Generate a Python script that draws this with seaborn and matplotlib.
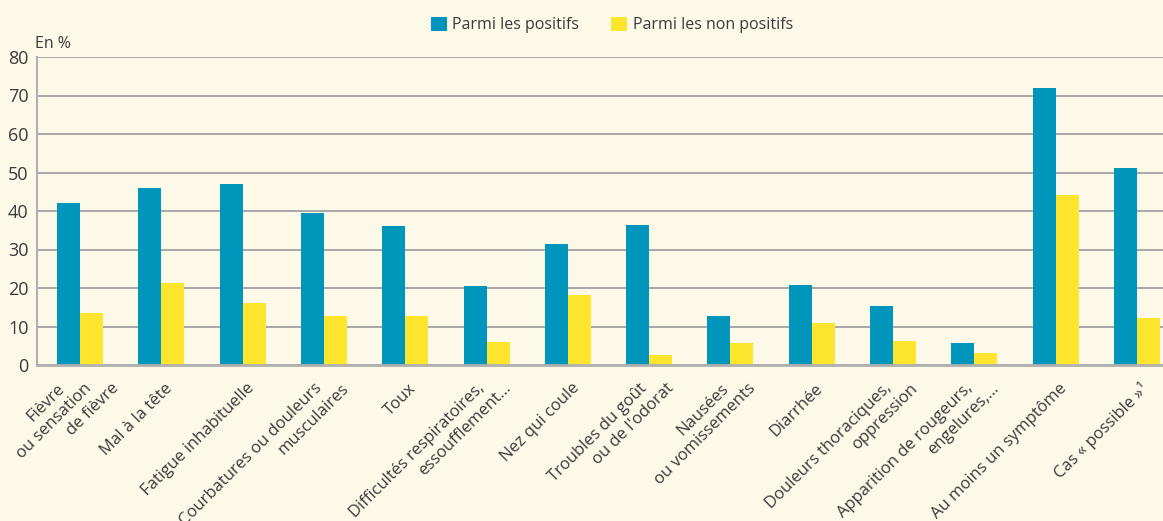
import matplotlib
matplotlib.use("Agg")
import matplotlib.pyplot as plt
import matplotlib.transforms as mtransforms
import seaborn as sns
import pandas as pd
from matplotlib.patches import Patch

categories = [
    "Fièvre\nou sensation\nde fièvre",
    "Mal à la tête",
    "Fatigue inhabituelle",
    "Courbatures ou douleurs\nmusculaires",
    "Toux",
    "Difficultés respiratoires,\nessoufflement…",
    "Nez qui coule",
    "Troubles du goût\nou de l'odorat",
    "Nausées\nou vomissements",
    "Diarrhée",
    "Douleurs thoraciques,\noppression",
    "Apparition de rougeurs,\nengelures,…",
    "Au moins un symptôme",
    "Cas « possible »¹",
]
positifs = [42.0, 45.9, 46.9, 39.4, 36.0, 20.4, 31.3, 36.3, 12.6, 20.7, 15.2, 5.6, 71.9, 51.1]
non_positifs = [13.4, 21.2, 16.2, 12.6, 12.6, 6.1, 18.3, 2.7, 5.6, 11.0, 6.3, 3.2, 44.1, 12.3]
series = ["Parmi les positifs", "Parmi les non positifs"]
yticks = [0, 10, 20, 30, 40, 50, 60, 70, 80]

BG = "#FDF9E9"
BLUE = "#0095BA"
YELLOW = "#FDE52E"
GRID = "#9A9A9A"
TXT = "#3A3A3A"

df = pd.DataFrame({
    "cat": categories * 2,
    "val": positifs + non_positifs,
    "serie": [series[0]] * len(categories) + [series[1]] * len(categories),
})

sns.set_theme(style="white")
plt.rcParams["font.family"] = ["Open Sans", "DejaVu Sans"]

W, H = 1163, 521
fig = plt.figure(figsize=(W / 100, H / 100), dpi=100, facecolor=BG)
ax = fig.add_axes([37 / W, 1 - 365 / H, (W - 37) / W, (365 - 57) / H])
ax.set_facecolor(BG)

sns.barplot(data=df, x="cat", y="val", hue="serie", order=categories, hue_order=series,
            palette=[BLUE, YELLOW], width=0.566, gap=0.0, dodge=True, ax=ax, legend=False,
            saturation=1, linewidth=0, edgecolor="none")

ax.set_ylim(0, 80)
ax.set_xlim(-0.53, 13.32)
ax.set_yticks(yticks)
ax.yaxis.grid(True, color=GRID, linewidth=1.2)
ax.set_axisbelow(True)
for s in ["top", "right"]:
    ax.spines[s].set_visible(False)
ax.spines["left"].set_color("#B0B0B0")
ax.spines["left"].set_linewidth(1.5)
ax.spines["bottom"].set_color("#B0B0B0")
ax.spines["bottom"].set_linewidth(2.0)
ax.set_xlabel("")
ax.set_ylabel("")
ax.tick_params(axis="y", length=0, pad=6, labelsize=13, labelcolor=TXT)
ax.set_xticks(range(len(categories)))
ax.set_xticklabels([""] * len(categories))
ax.tick_params(axis="x", length=0)

# rotated category labels: each line's end sits on a common horizontal line
trans = mtransforms.blended_transform_factory(ax.transData, ax.transAxes)
px_per_unit = (W - 37) / (13.32 + 0.53)
y_anchor = -(386 - 365) / (365 - 57)
for i, cat in enumerate(categories):
    lines = cat.split("\n")
    n = len(lines)
    for j, line in enumerate(lines):
        dx = (9 + (j - (n - 1) / 2) * 27) / px_per_unit
        ax.text(i + dx, y_anchor, line, transform=trans, rotation=45,
                rotation_mode="anchor", ha="right", va="center",
                fontsize=12, color=TXT, clip_on=False)

fig.text(35 / W, 1 - 44 / H, "En %", fontsize=11.5, color=TXT, va="center", ha="left")

handles = [Patch(facecolor=BLUE, edgecolor="none"), Patch(facecolor=YELLOW, edgecolor="none")]
fig.legend(handles, series, loc="center", bbox_to_anchor=(612 / W, 1 - 25 / H),
           ncol=2, frameon=False, fontsize=11.5, handlelength=1.0, handleheight=1.0,
           handletextpad=0.35, columnspacing=2.0, labelcolor=TXT)

fig.savefig("out.png", dpi=100, facecolor=BG)
